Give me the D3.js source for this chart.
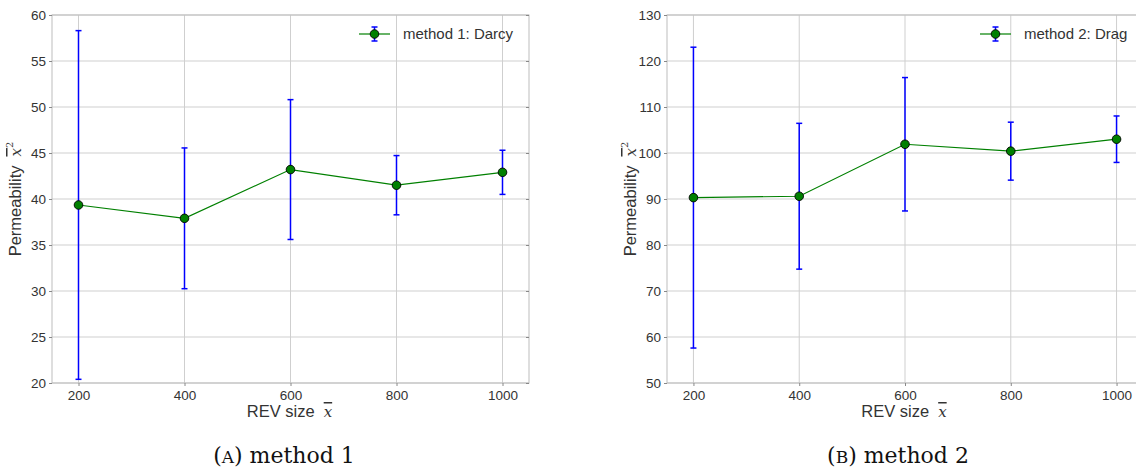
<!DOCTYPE html>
<html>
<head>
<meta charset="utf-8">
<script src="https://cdn.jsdelivr.net/npm/d3@7"></script>
<style>
  body { margin: 0; background: #fff; }
  svg { display: block; }
  .tick text { font-family: "Liberation Sans", Arial, sans-serif; font-size: 13.5px; fill: #333; }
</style>
</head>
<body>
<svg id="chart" width="1136" height="471"></svg>
<script>
// ---- data ----
const revSizes = [200, 400, 600, 800, 1000];
const xTicks = [200, 400, 600, 800, 1000];

const darcyMean = [39.35, 37.9, 43.2, 41.5, 42.9];
const darcyErr  = [18.95, 7.65, 7.6, 3.22, 2.4];
const darcyTicks = [20, 25, 30, 35, 40, 45, 50, 55, 60];

const dragMean = [90.3, 90.6, 101.9, 100.4, 103.0];
const dragErr  = [32.7, 15.85, 14.5, 6.3, 5.05];
const dragTicks = [50, 60, 70, 80, 90, 100, 110, 120, 130];

const legendLabels = ["method 1: Darcy", "method 2: Drag"];
const captions = [["A", ") method 1"], ["B", ") method 2"]];

const svg = d3.select("#chart");

function panel(opts) {
  const { left, right, top, bottom, yDomain, yTicks, mean, err, label, caption, legendX } = opts;
  const g = svg.append("g");
  const x = d3.scaleLinear().domain([150, 1050]).range([left, right]);
  const y = d3.scaleLinear().domain(yDomain).range([bottom, top]);

  // grid
  g.append("g").selectAll("line").data(xTicks).join("line")
    .attr("x1", d => x(d)).attr("x2", d => x(d)).attr("y1", top).attr("y2", bottom)
    .attr("stroke", "#cfcfcf").attr("stroke-width", 1);
  g.append("g").selectAll("line").data(yTicks).join("line")
    .attr("x1", left).attr("x2", right).attr("y1", d => y(d)).attr("y2", d => y(d))
    .attr("stroke", "#cfcfcf").attr("stroke-width", 1);

  // frame
  g.append("rect").attr("x", left).attr("y", top).attr("width", right - left).attr("height", bottom - top)
    .attr("fill", "none").attr("stroke", "#bdbdbd").attr("stroke-width", 1);

  // axes
  const xAxis = g.append("g").attr("transform", `translate(0,${bottom})`)
    .call(d3.axisBottom(x).tickValues(xTicks).tickFormat(d3.format("d")).tickSize(3).tickPadding(4));
  xAxis.select(".domain").remove();
  xAxis.selectAll(".tick line").attr("stroke", "#888");
  const yAxis = g.append("g").attr("transform", `translate(${left},0)`)
    .call(d3.axisLeft(y).tickValues(yTicks).tickFormat(d3.format("d")).tickSize(3).tickPadding(3));
  yAxis.select(".domain").remove();
  yAxis.selectAll(".tick line").attr("stroke", "#888");
  const yAxisR = g.append("g").attr("transform", `translate(${right},0)`)
    .call(d3.axisLeft(y).tickValues(yTicks).tickSize(3).tickFormat(""));
  yAxisR.select(".domain").remove();
  yAxisR.selectAll(".tick line").attr("stroke", "#888");

  // axis titles
  const xt = g.append("text")
    .attr("x", (left + right) / 2 - 1)
    .attr("y", bottom + 34)
    .attr("text-anchor", "middle")
    .attr("font-family", "Liberation Sans, Arial, sans-serif")
    .attr("font-size", 16.5).attr("fill", "#333");
  xt.append("tspan").text("REV size");
  xt.append("tspan").attr("dx", 9).attr("font-family", "DejaVu Serif, serif").attr("font-style", "italic")
    .attr("font-size", 15).style("text-decoration", "overline").text("x");

  const yt = g.append("text")
    .attr("transform", `translate(${left - 31},${(top + bottom) / 2}) rotate(-90)`)
    .attr("text-anchor", "middle")
    .attr("font-family", "Liberation Sans, Arial, sans-serif")
    .attr("font-size", 16.5).attr("fill", "#333");
  yt.append("tspan").text("Permeability");
  yt.append("tspan").attr("dx", 9).attr("font-family", "DejaVu Serif, serif").attr("font-style", "italic")
    .attr("font-size", 15).style("text-decoration", "overline").text("x");
  yt.append("tspan").attr("font-family", "DejaVu Serif, serif")
    .attr("font-size", 10).attr("dy", -8).text("2");

  // data line
  const pts = revSizes.map((v, i) => ({ x: v, m: mean[i], e: err[i] }));
  g.append("path").datum(pts)
    .attr("fill", "none").attr("stroke", "#008000").attr("stroke-width", 1.2)
    .attr("d", d3.line().x(d => x(d.x)).y(d => y(d.m)));

  // error bars
  const eb = g.append("g").attr("stroke", "#0000ff").attr("stroke-width", 1.5);
  eb.selectAll("line.v").data(pts).join("line").attr("class", "v")
    .attr("x1", d => x(d.x)).attr("x2", d => x(d.x))
    .attr("y1", d => y(d.m - d.e)).attr("y2", d => y(d.m + d.e));
  eb.selectAll("line.t").data(pts).join("line").attr("class", "t")
    .attr("x1", d => x(d.x) - 3).attr("x2", d => x(d.x) + 3)
    .attr("y1", d => y(d.m + d.e)).attr("y2", d => y(d.m + d.e));
  eb.selectAll("line.b").data(pts).join("line").attr("class", "b")
    .attr("x1", d => x(d.x) - 3).attr("x2", d => x(d.x) + 3)
    .attr("y1", d => y(d.m - d.e)).attr("y2", d => y(d.m - d.e));

  // markers
  g.append("g").selectAll("circle").data(pts).join("circle")
    .attr("cx", d => x(d.x)).attr("cy", d => y(d.m)).attr("r", 4.3)
    .attr("fill", "#008000").attr("stroke", "#000").attr("stroke-width", 0.9);

  // legend
  const ly = 34;
  const lg = g.append("g");
  lg.append("line").attr("x1", legendX).attr("x2", legendX + 31).attr("y1", ly).attr("y2", ly)
    .attr("stroke", "#008000").attr("stroke-width", 1.2);
  const cx = legendX + 15.5;
  lg.append("line").attr("x1", cx).attr("x2", cx).attr("y1", ly - 7).attr("y2", ly + 7)
    .attr("stroke", "#0000ff").attr("stroke-width", 1.5);
  lg.append("line").attr("x1", cx - 3).attr("x2", cx + 3).attr("y1", ly - 7).attr("y2", ly - 7)
    .attr("stroke", "#0000ff").attr("stroke-width", 1.5);
  lg.append("line").attr("x1", cx - 3).attr("x2", cx + 3).attr("y1", ly + 7).attr("y2", ly + 7)
    .attr("stroke", "#0000ff").attr("stroke-width", 1.5);
  lg.append("circle").attr("cx", cx).attr("cy", ly).attr("r", 4.3)
    .attr("fill", "#008000").attr("stroke", "#000").attr("stroke-width", 0.9);
  lg.append("text").attr("x", legendX + 44).attr("y", ly + 5)
    .attr("font-family", "Liberation Sans, Arial, sans-serif")
    .attr("font-size", 15).attr("fill", "#333").text(label);

  // caption
  const ct = svg.append("text")
    .attr("x", opts.capX).attr("y", 463)
    .attr("text-anchor", "middle")
    .attr("font-family", "DejaVu Serif, Liberation Serif, serif")
    .attr("font-size", 22).attr("fill", "#111");
  ct.append("tspan").text("(");
  ct.append("tspan").attr("font-size", 17).text(caption[0]);
  ct.append("tspan").text(caption[1]);
}

panel({ left: 52, right: 529, top: 15, bottom: 383, yDomain: [20, 60], yTicks: darcyTicks,
        mean: darcyMean, err: darcyErr, label: legendLabels[0], caption: captions[0],
        legendX: 359, capX: 284 });
panel({ left: 667, right: 1143, top: 15, bottom: 383, yDomain: [50, 130], yTicks: dragTicks,
        mean: dragMean, err: dragErr, label: legendLabels[1], caption: captions[1],
        legendX: 980, capX: 898 });
</script>
</body>
</html>
